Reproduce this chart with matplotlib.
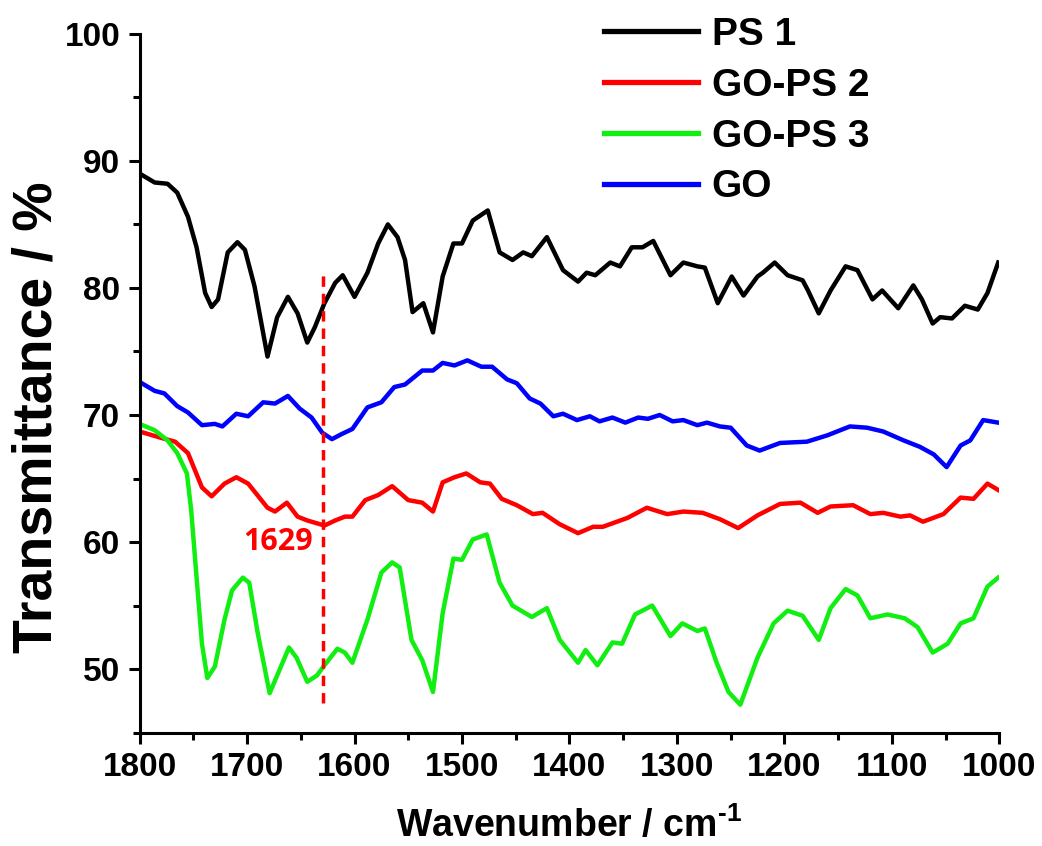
import matplotlib
matplotlib.use("Agg")
import matplotlib.pyplot as plt
from matplotlib.ticker import MultipleLocator

plt.rcParams["font.family"] = ["Liberation Sans", "DejaVu Sans"]
plt.rcParams["font.weight"] = "bold"
plt.rcParams["mathtext.fontset"] = "custom"
plt.rcParams["mathtext.rm"] = "Liberation Sans:bold"

# PS 1 (black)
ps1_wn = [1800, 1786, 1774, 1765, 1755, 1747, 1739, 1733, 1727, 1718,
          1709, 1702, 1693, 1681, 1672, 1662, 1653, 1644, 1637, 1628,
          1618, 1611, 1600, 1588, 1578, 1569, 1560, 1553, 1546, 1536,
          1527, 1518, 1508, 1500, 1490, 1476, 1465, 1453, 1443, 1435,
          1421, 1406, 1392, 1384, 1376, 1362, 1353, 1342, 1332, 1322,
          1306, 1294, 1281, 1274, 1262, 1249, 1238, 1225, 1220, 1209,
          1197, 1183, 1178, 1168, 1157, 1143, 1132, 1118, 1109, 1094,
          1080, 1072, 1062, 1055, 1044, 1032, 1020, 1011, 1001]
ps1_t = [89.0, 88.3, 88.2, 87.5, 85.6, 83.2, 79.6, 78.5, 79.1, 82.8,
         83.6, 83.0, 80.1, 74.6, 77.7, 79.3, 78.0, 75.7, 76.9, 78.8,
         80.4, 81.0, 79.3, 81.2, 83.5, 85.0, 84.0, 82.2, 78.1, 78.8,
         76.5, 80.9, 83.5, 83.5, 85.3, 86.1, 82.8, 82.2, 82.8, 82.5,
         84.0, 81.4, 80.5, 81.2, 81.0, 82.0, 81.7, 83.2, 83.2, 83.7,
         81.0, 82.0, 81.7, 81.6, 78.8, 80.9, 79.4, 80.9, 81.2, 82.0,
         81.0, 80.6, 79.8, 78.0, 79.8, 81.7, 81.4, 79.1, 79.8, 78.4,
         80.2, 79.1, 77.2, 77.7, 77.6, 78.6, 78.3, 79.6, 82.0]

# GO-PS 2 (red)
gops2_wn = [1800, 1780, 1767, 1755, 1742, 1733, 1721, 1710, 1699, 1681,
            1674, 1663, 1653, 1644, 1628, 1618, 1609, 1602, 1590, 1578,
            1565, 1550, 1537, 1527, 1518, 1507, 1496, 1483, 1474, 1463,
            1449, 1434, 1425, 1409, 1392, 1378, 1369, 1346, 1328, 1309,
            1294, 1276, 1260, 1243, 1225, 1204, 1185, 1169, 1157, 1136,
            1120, 1108, 1092, 1083, 1071, 1052, 1036, 1024, 1011, 1001]
gops2_t = [68.7, 68.2, 67.9, 67.0, 64.3, 63.6, 64.6, 65.1, 64.6, 62.7,
           62.4, 63.1, 62.0, 61.7, 61.3, 61.7, 62.0, 62.0, 63.3, 63.7,
           64.4, 63.3, 63.1, 62.4, 64.7, 65.1, 65.4, 64.7, 64.6, 63.4,
           62.9, 62.2, 62.3, 61.4, 60.7, 61.2, 61.2, 61.9, 62.7, 62.2,
           62.4, 62.3, 61.8, 61.1, 62.1, 63.0, 63.1, 62.3, 62.8, 62.9,
           62.2, 62.3, 62.0, 62.1, 61.6, 62.2, 63.5, 63.4, 64.6, 64.1]

# GO-PS 3 (green)
gops3_wn = [1800, 1786, 1774, 1765, 1756, 1752, 1747, 1742, 1737, 1730,
            1721, 1714, 1704, 1698, 1690, 1679, 1671, 1661, 1654, 1644,
            1635, 1628, 1616, 1609, 1602, 1588, 1575, 1565, 1558, 1547,
            1537, 1527, 1518, 1508, 1500, 1490, 1477, 1465, 1453, 1435,
            1421, 1409, 1392, 1385, 1374, 1360, 1351, 1339, 1323, 1306,
            1295, 1281, 1274, 1263, 1252, 1241, 1225, 1210, 1197, 1183,
            1168, 1157, 1143, 1132, 1120, 1104, 1088, 1076, 1062, 1048,
            1036, 1024, 1011, 1001]
gops3_t = [69.3, 68.8, 68.0, 67.0, 65.4, 62.5, 57.2, 52.0, 49.3, 50.2,
           53.9, 56.2, 57.2, 56.8, 52.8, 48.1, 49.7, 51.7, 50.9, 49.0,
           49.5, 50.3, 51.6, 51.3, 50.5, 53.9, 57.6, 58.4, 58.0, 52.3,
           50.7, 48.2, 54.4, 58.7, 58.6, 60.2, 60.6, 56.8, 55.0, 54.1,
           54.8, 52.3, 50.5, 51.5, 50.3, 52.1, 52.0, 54.3, 55.0, 52.6,
           53.6, 53.0, 53.2, 50.5, 48.2, 47.2, 50.9, 53.6, 54.6, 54.2,
           52.3, 54.8, 56.3, 55.8, 54.0, 54.3, 54.0, 53.3, 51.3, 52.0,
           53.6, 54.0, 56.5, 57.2]

# GO (blue)
go_wn = [1800, 1786, 1777, 1765, 1755, 1742, 1730, 1723, 1710, 1699,
         1685, 1674, 1662, 1651, 1640, 1630, 1621, 1612, 1602, 1588,
         1575, 1563, 1553, 1537, 1527, 1518, 1507, 1495, 1482, 1472,
         1458, 1449, 1437, 1427, 1415, 1406, 1393, 1381, 1372, 1360,
         1348, 1336, 1327, 1316, 1304, 1294, 1281, 1272, 1260, 1250,
         1235, 1223, 1204, 1179, 1160, 1139, 1123, 1108, 1089, 1074,
         1061, 1049, 1036, 1027, 1015, 1001]
go_t = [72.6, 71.9, 71.7, 70.7, 70.2, 69.2, 69.3, 69.1, 70.1, 69.9,
        71.0, 70.9, 71.5, 70.5, 69.8, 68.6, 68.1, 68.5, 68.9, 70.6,
        71.0, 72.2, 72.4, 73.5, 73.5, 74.1, 73.9, 74.3, 73.8, 73.8,
        72.8, 72.5, 71.3, 70.9, 69.9, 70.1, 69.6, 69.9, 69.5, 69.8,
        69.4, 69.8, 69.7, 70.0, 69.5, 69.6, 69.2, 69.4, 69.1, 69.0,
        67.6, 67.2, 67.8, 67.9, 68.4, 69.1, 69.0, 68.7, 68.0, 67.5,
        66.9, 65.9, 67.6, 68.0, 69.6, 69.4]

marker_wn = 1629

fig = plt.figure(figsize=(10.42, 8.46), dpi=100)
ax = fig.add_axes([0.134, 0.134, 0.825, 0.826])

lw = 3.2
ax.plot(ps1_wn, ps1_t, color="black", lw=lw, label="PS 1")
ax.plot(gops2_wn, gops2_t, color="#ff0000", lw=lw, label="GO-PS 2")
ax.plot(gops3_wn, gops3_t, color="#11ee11", lw=lw, label="GO-PS 3")
ax.plot(go_wn, go_t, color="#0000ff", lw=lw, label="GO")

ax.plot([marker_wn, marker_wn], [47.3, 81.4], color="#ff0000", lw=2.5,
        ls=(0, (3, 2)))
ax.text(1639, 60.0, str(marker_wn), color="#ff0000", fontsize=22,
        fontweight="bold", family=["Open Sans", "DejaVu Sans"],
        ha="right", va="center")

ax.set_xlim(1800, 1000)
ax.set_ylim(45, 100)
ax.xaxis.set_major_locator(MultipleLocator(100))
ax.xaxis.set_minor_locator(MultipleLocator(50))
ax.yaxis.set_minor_locator(MultipleLocator(5))
ax.set_yticks([50, 60, 70, 80, 90, 100])

for s in ["top", "right"]:
    ax.spines[s].set_visible(False)
for s in ["left", "bottom"]:
    ax.spines[s].set_linewidth(2.2)

ax.tick_params(which="major", direction="out", length=8, width=2.2,
               labelsize=24, pad=6)
ax.tick_params(which="minor", direction="out", length=5, width=2.2)

ax.set_xlabel("Wavenumber / cm$^{\\text{-1}}$", fontsize=27, fontweight="bold")
ax.set_ylabel("Transmittance / %", fontsize=40, fontweight="bold")
ax.xaxis.set_label_coords(0.5, -0.105)
ax.yaxis.set_label_coords(-0.089, 0.452)

leg = ax.legend(loc="upper left", bbox_to_anchor=(0.517, 1.052), frameon=False,
                fontsize=28, handlelength=2.42, handletextpad=0.36,
                labelspacing=0.38, borderpad=0.0)
for line in leg.get_lines():
    line.set_linewidth(3.8)

plt.savefig("out.png", dpi=100)
plt.close()
